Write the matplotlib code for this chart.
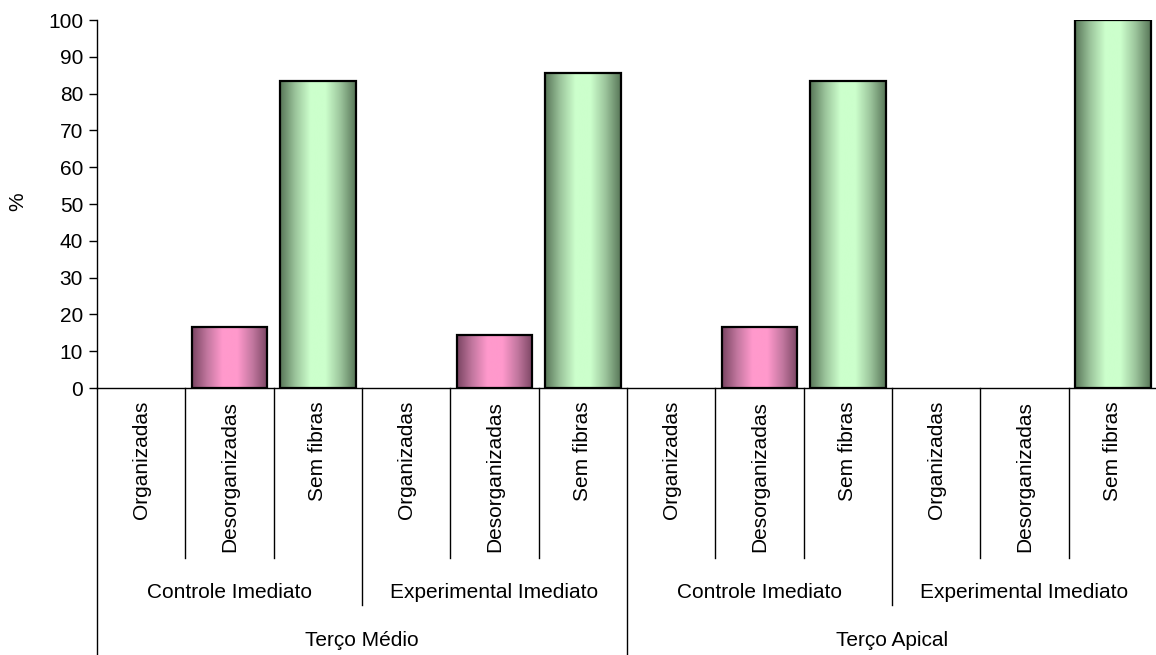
import numpy as np
import matplotlib.pyplot as plt
from matplotlib.colors import LinearSegmentedColormap

plt.rcParams['font.family'] = ['Liberation Sans', 'DejaVu Sans']

categories = ['Organizadas', 'Desorganizadas', 'Sem fibras'] * 4
groups = ['Controle Imediato', 'Experimental Imediato', 'Controle Imediato', 'Experimental Imediato']
regions = ['Terço Médio', 'Terço Apical']
values = [0, 16.7, 83.3, 0, 14.3, 85.7, 0, 16.7, 83.3, 0, 0, 100]
kinds = ['org', 'des', 'sem'] * 4

FS = 15
W, H = 1156, 655
fig = plt.figure(figsize=(W / 100, H / 100), dpi=100)
ax_left, ax_right, ax_bottom, ax_top = 97, 1157, 388, 20
ax = fig.add_axes([ax_left / W, 1 - ax_bottom / H, (ax_right - ax_left) / W, (ax_bottom - ax_top) / H])

x = np.arange(len(values))
edges = ['black' if v > 0 else 'none' for v in values]
bars = ax.bar(x, values, width=0.86, facecolor='none', edgecolor=edges, linewidth=1.6, zorder=3)

cmaps = {
    'des': LinearSegmentedColormap.from_list('p', ['#7a4462', '#c2779f', '#ff99cc', '#ff99cc', '#c2779f', '#7a4462']),
    'sem': LinearSegmentedColormap.from_list('g', ['#587658', '#9bc49b', '#ccffcc', '#ccffcc', '#9bc49b', '#587658']),
}
grad = np.linspace(0, 1, 256).reshape(1, -1)
for b, k in zip(bars, kinds):
    if b.get_height() <= 0 or k not in cmaps:
        continue
    ax.imshow(grad, cmap=cmaps[k], aspect='auto', zorder=2,
              extent=[b.get_x(), b.get_x() + b.get_width(), 0, b.get_height()])

ax.set_xlim(-0.5, len(values) - 0.5)
ax.set_ylim(0, 100)
ax.set_yticks(range(0, 101, 10))
ax.tick_params(axis='y', direction='out', length=6, width=1, labelsize=FS, pad=4)
ax.set_xticks([])
ax.set_ylabel('%', fontsize=FS)
ax.yaxis.set_label_coords((27 - ax_left) / (ax_right - ax_left), 0.505)
for s in ['top', 'right']:
    ax.spines[s].set_visible(False)
ax.spines['left'].set_linewidth(1)
ax.spines['bottom'].set_linewidth(1)

def fy(py):
    return (ax_bottom - py) / (ax_bottom - ax_top)

tr = ax.get_xaxis_transform()
kw = dict(color='black', linewidth=1, transform=tr, clip_on=False)

# category labels and separators
for i, c in enumerate(categories):
    ax.text(i, fy(401), c, rotation=90, ha='center', va='top', fontsize=FS, transform=tr)
for i in range(len(categories) + 1):
    xs = i - 0.5
    if i % 6 == 0:
        bottom = 655
    elif i % 3 == 0:
        bottom = 605
    else:
        bottom = 558
    ax.plot([xs, xs], [fy(388), fy(bottom)], **kw)

# group labels
for j, g in enumerate(groups):
    ax.text(3 * j + 1, fy(592), g, ha='center', va='center', fontsize=FS, transform=tr)
for j, r in enumerate(regions):
    ax.text(6 * j + 2.5, fy(640), r, ha='center', va='center', fontsize=FS, transform=tr)

fig.savefig('out.png', dpi=100)
